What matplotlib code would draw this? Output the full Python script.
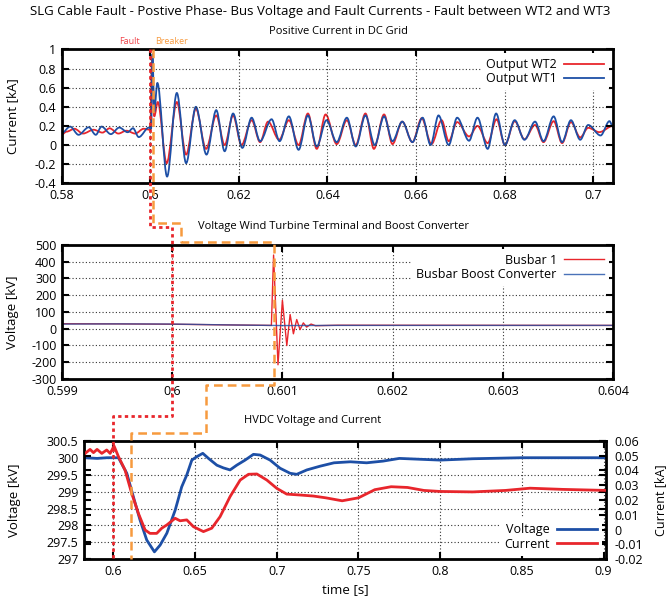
import numpy as np
import matplotlib
matplotlib.use("Agg")
import matplotlib.pyplot as plt
from matplotlib.lines import Line2D
from matplotlib.path import Path
from matplotlib.patches import PathPatch
from matplotlib.ticker import FuncFormatter

plt.rcParams['font.family'] = ['Open Sans', 'DejaVu Sans']

# ---------------- data ----------------
# panel 1: positive current in DC grid [kA] (turning points of the oscillation)
wt1_t = [0.5800, 0.5819, 0.5838, 0.5861, 0.5877, 0.5890, 0.5911, 0.5930, 0.5949, 0.5961,
         0.5974, 0.5997, 0.6002, 0.6005, 0.6009, 0.6016, 0.6038, 0.6060, 0.6081, 0.6103,
         0.6127, 0.6149, 0.6168, 0.6187, 0.6208, 0.6229, 0.6248, 0.6274, 0.6292, 0.6313,
         0.6335, 0.6356, 0.6376, 0.6398, 0.6421, 0.6444, 0.6464, 0.6486, 0.6507, 0.6528,
         0.6547, 0.6569, 0.6592, 0.6615, 0.6633, 0.6651, 0.6674, 0.6693, 0.6720, 0.6739,
         0.6762, 0.6781, 0.6801, 0.6823, 0.6845, 0.6869, 0.6888, 0.6911, 0.6930, 0.6950,
         0.6971, 0.6989, 0.7017, 0.7037, 0.7045]
wt1_i = [0.124, 0.193, 0.107, 0.186, 0.107, 0.193, 0.114, 0.183, 0.134, 0.176,
         0.083, 0.183, 0.17, 0.95, 0.35, 0.65, -0.33, 0.545, -0.19, 0.40,
         -0.10, 0.365, -0.065, 0.33, -0.03, 0.286, 0.04, 0.27, 0.04, 0.30,
         -0.05, 0.31, -0.015, 0.26, 0.03, 0.286, -0.015, 0.31, 0.0, 0.30,
         0.04, 0.245, 0.03, 0.286, 0.0, 0.31, 0.0, 0.286, 0.045, 0.286,
         -0.04, 0.33, 0.0, 0.26, 0.055, 0.245, 0.04, 0.30, 0.03, 0.26,
         0.055, 0.21, 0.10, 0.25, 0.19]

wt2_t = [0.5800, 0.5811, 0.5829, 0.5848, 0.5872, 0.5892, 0.5908, 0.5928, 0.5946, 0.5966,
         0.5985, 0.6000, 0.6004, 0.6009, 0.6017, 0.6037, 0.6060, 0.6081, 0.6103, 0.6126,
         0.6149, 0.6168, 0.6187, 0.6206, 0.6229, 0.6248, 0.6266, 0.6291, 0.6313, 0.6335,
         0.6356, 0.6376, 0.6396, 0.6421, 0.6444, 0.6464, 0.6486, 0.6505, 0.6528, 0.6547,
         0.6569, 0.6592, 0.6613, 0.6635, 0.6658, 0.6674, 0.6693, 0.6720, 0.6739, 0.6762,
         0.6782, 0.6801, 0.6823, 0.6845, 0.6869, 0.6888, 0.6911, 0.6930, 0.6950, 0.6971,
         0.6989, 0.7014, 0.7045]
wt2_i = [0.11, 0.14, 0.17, 0.12, 0.16, 0.13, 0.175, 0.12, 0.15, 0.12,
         0.17, 0.16, 0.90, 0.30, 0.45, -0.19, 0.45, -0.10, 0.38, -0.04,
         0.31, 0.0, 0.31, 0.0, 0.26, 0.03, 0.245, 0.055, 0.26, 0.0,
         0.33, -0.04, 0.32, 0.01, 0.26, 0.0, 0.33, -0.04, 0.32, 0.01,
         0.245, 0.03, 0.28, 0.01, 0.26, 0.04, 0.24, 0.09, 0.20, 0.02,
         0.27, 0.0, 0.25, 0.06, 0.21, 0.03, 0.25, 0.02, 0.24, 0.08,
         0.18, 0.135, 0.20]

# panel 2: voltage wind turbine terminal and boost converter [kV]
bus1_t = [0.5990, 0.5995, 0.6000, 0.6005, 0.6009, 0.60092, 0.60096, 0.60100, 0.60104, 0.60107,
          0.60110, 0.60113, 0.60116, 0.60119, 0.60122, 0.60126, 0.60130, 0.60150, 0.6040]
bus1_v = [30, 29, 27, 23, 20, 440, -215, 170, -100, 85,
          -30, 55, -5, 35, 10, 28, 18, 21, 20]
boost_t = [0.5990, 0.5995, 0.6000, 0.6005, 0.6010, 0.6015, 0.6040]
boost_v = [28, 29, 28, 23, 19, 20, 20]

# panel 3: HVDC voltage [kV] and current [kA]
hv_t = [0.5827, 0.5900, 0.5960, 0.6031, 0.6082, 0.6122, 0.6163, 0.6204, 0.6251, 0.6286,
        0.6327, 0.6378, 0.6418, 0.6449, 0.6480, 0.6510, 0.6547, 0.6582, 0.6633, 0.6673,
        0.6714, 0.6755, 0.6806, 0.6857, 0.6898, 0.6959, 0.7020, 0.7082, 0.7122, 0.7184,
        0.7265, 0.7350, 0.7450, 0.7550, 0.7650, 0.7750, 0.7900, 0.8000, 0.8200, 0.8500,
        0.8750, 0.9015]
hv_v = [300.0, 299.98, 300.0, 300.0, 299.54, 298.85, 298.16, 297.57, 297.22, 297.42,
        297.77, 298.45, 299.14, 299.49, 299.93, 300.03, 300.13, 299.98, 299.78, 299.70,
        299.64, 299.78, 299.93, 300.10, 300.08, 299.93, 299.69, 299.54, 299.51, 299.64,
        299.75, 299.85, 299.88, 299.85, 299.90, 299.98, 299.95, 299.93, 299.97, 300.0,
        300.0, 300.0]
hc_t = [0.5827, 0.5857, 0.5878, 0.5900, 0.5929, 0.5959, 0.5980, 0.6004, 0.6031, 0.6071,
        0.6112, 0.6153, 0.6194, 0.6224, 0.6265, 0.6296, 0.6327, 0.6378, 0.6408, 0.6449,
        0.6490, 0.6551, 0.6602, 0.6653, 0.6714, 0.6776, 0.6827, 0.6878, 0.6939, 0.7000,
        0.7061, 0.7143, 0.7224, 0.7300, 0.7400, 0.7500, 0.7600, 0.7700, 0.7800, 0.7900,
        0.8000, 0.8200, 0.8400, 0.8550, 0.8750, 0.9015]
hc_i = [0.0515, 0.0542, 0.0520, 0.0542, 0.0515, 0.0538, 0.0515, 0.0565, 0.0493, 0.0403,
        0.0245, 0.0110, -0.0002, -0.0025, -0.0025, 0.0010, 0.0032, 0.0077, 0.0060, 0.0066,
        0.0020, -0.0013, 0.0010, 0.0088, 0.0223, 0.0335, 0.0374, 0.0376, 0.0335, 0.0279,
        0.0240, 0.0234, 0.0227, 0.0215, 0.0195, 0.0215, 0.0270, 0.0290, 0.0285, 0.0265,
        0.0258, 0.0255, 0.0265, 0.0280, 0.0272, 0.0265]

# fault / breaker instants as drawn in each panel (annotation lines)
fault_t = [0.6, 0.6, 0.6]
breaker_t = [0.6007, 0.60092, 0.6105]

RED = '#e8262c'
BLUE = '#1d4fa6'
ORANGE = '#f79a3e'

W, H = 669, 602
fig = plt.figure(figsize=(W / 100, H / 100), dpi=100)


def rect(l, r, t, b):
    return [l / W, 1 - b / H, (r - l) / W, (b - t) / H]


gfmt = FuncFormatter(lambda v, p: '%g' % round(v, 6))


def style(ax):
    for s in ax.spines.values():
        s.set_linewidth(2.0)
    ax.tick_params(direction='in', length=5, width=1.5, top=True, right=True,
                   labelsize=9, pad=4)
    ax.grid(True, color='#333333', linestyle=(0, (1, 2)), linewidth=0.8)
    ax.xaxis.set_major_formatter(gfmt)
    ax.yaxis.set_major_formatter(gfmt)


def gp_legend(ax, handles, labels, loc):
    leg = ax.legend(handles, labels, loc=loc, markerfirst=False, fontsize=9, frameon=True,
                    handlelength=3.2, borderaxespad=0.3, labelspacing=0.1, handletextpad=0.6)
    leg.get_frame().set_edgecolor('none')
    leg.get_frame().set_facecolor('white')
    leg.get_frame().set_alpha(1)
    return leg


def smooth_curve(ax, t, v, color, lw):
    # draw through the turning points with flat-tangent bezier segments
    verts = [(t[0], v[0])]
    codes = [Path.MOVETO]
    for i in range(1, len(t)):
        dt = t[i] - t[i - 1]
        verts += [(t[i - 1] + dt / 3, v[i - 1]), (t[i] - dt / 3, v[i]), (t[i], v[i])]
        codes += [Path.CURVE4] * 3
    ax.add_patch(PathPatch(Path(verts, codes), fill=False, edgecolor=color, lw=lw,
                           capstyle='round', joinstyle='round'))
    return Line2D([], [], color=color, lw=lw)


# ---------- panel 1 ----------
ax1 = fig.add_axes(rect(61.7, 613, 49.4, 183.3))
h2 = smooth_curve(ax1, wt2_t, wt2_i, RED, 1.3)
h1 = smooth_curve(ax1, wt1_t, wt1_i, BLUE, 1.3)
ax1.set_xlim(0.58, 0.7045)
ax1.set_ylim(-0.4, 1.0)
ax1.set_xticks(np.arange(0.58, 0.7001, 0.02))
ax1.set_yticks(np.arange(-0.4, 1.001, 0.2))
style(ax1)
gp_legend(ax1, [h2, h1], ['Output WT2', 'Output WT1'], 'upper right')

# ---------- panel 2 ----------
ax2 = fig.add_axes(rect(62, 613, 245, 379))
b1, = ax2.plot(bus1_t, bus1_v, color=RED, lw=1.0)
b2, = ax2.plot(boost_t, boost_v, color=BLUE, lw=1.0, alpha=0.8)
ax2.set_xlim(0.599, 0.604)
ax2.set_ylim(-300, 500)
ax2.set_xticks(np.arange(0.599, 0.60401, 0.001))
ax2.set_yticks(np.arange(-300, 501, 100))
style(ax2)
gp_legend(ax2, [b1, b2], ['Busbar 1', 'Busbar Boost Converter'], 'upper right')

# ---------- panel 3 ----------
ax3 = fig.add_axes(rect(84, 606, 440.8, 559.3))
ax3b = ax3.twinx()
l_v, = ax3.plot(hv_t, hv_v, color=BLUE, lw=2.0, solid_joinstyle='round')
l_c, = ax3b.plot(hc_t, hc_i, color=RED, lw=2.0, solid_joinstyle='round')
ax3.set_xlim(0.582, 0.9015)
ax3.set_ylim(297, 300.5)
ax3b.set_ylim(-0.02, 0.06)
ax3.set_xticks(np.arange(0.6, 0.9001, 0.05))
ax3.set_yticks(np.arange(297, 300.51, 0.5))
ax3b.set_yticks(np.arange(-0.02, 0.0601, 0.01))
style(ax3)
ax3b.tick_params(direction='in', length=5, width=1.5, labelsize=9, pad=6, left=True)
ax3b.yaxis.set_major_formatter(gfmt)
ax3.set_xlabel('time [s]', fontsize=9.5, labelpad=4)
gp_legend(ax3b, [l_v, l_c], ['Voltage', 'Current'], 'lower right')

# ---------- axis labels and titles ----------
fig.text(13 / W, 1 - 116 / H, 'Current [kA]', rotation=90, ha='center', va='center', fontsize=9.5)
fig.text(13 / W, 1 - 312 / H, 'Voltage [kV]', rotation=90, ha='center', va='center', fontsize=9.5)
fig.text(15 / W, 1 - 500 / H, 'Voltage [kV]', rotation=90, ha='center', va='center', fontsize=9.5)
fig.text(661 / W, 1 - 500 / H, 'Current [kA]', rotation=90, ha='center', va='center', fontsize=9)
fig.text(320 / W, 1 - 12 / H, 'SLG Cable Fault - Postive Phase- Bus Voltage and Fault Currents - Fault between WT2 and WT3',
         ha='center', va='center', fontsize=9.5)
fig.text(338 / W, 1 - 31 / H, 'Positive Current in DC Grid', ha='center', va='center', fontsize=8)
fig.text(333 / W, 1 - 227 / H, 'Voltage Wind Turbine Terminal and Boost Converter',
         ha='center', va='center', fontsize=8)
fig.text(313 / W, 1 - 421 / H, 'HVDC Voltage and Current', ha='center', va='center', fontsize=8)
fig.text(129 / W, 1 - 42 / H, 'Fault', ha='center', va='center', fontsize=6.5, color='#f0454b')
fig.text(172 / W, 1 - 42 / H, 'Breaker', ha='center', va='center', fontsize=6.5, color=ORANGE)

# ---------- fault / breaker connectors ----------
fig.canvas.draw()


def fx(ax, t):
    x = ax.transData.transform((t, 0))[0]
    return fig.transFigure.inverted().transform((x, 0))[0]


def fy(y_px):
    return 1 - y_px / H


fr = [fx(ax1, fault_t[0]), fx(ax2, fault_t[1]), fx(ax3, fault_t[2])]
br = [fx(ax1, breaker_t[0]), fx(ax2, breaker_t[1]), fx(ax3, breaker_t[2])]

red_x = [fr[0], fr[0], fr[1], fr[1], fr[2], fr[2]]
red_y = [fy(49), fy(227), fy(227), fy(416), fy(416), fy(559.3)]
fig.add_artist(Line2D(red_x, red_y, transform=fig.transFigure, color=RED,
                      lw=2.0, linestyle=(0, (1.2, 1.2)), zorder=10))

mid_x = fx(ax2, 0.60008)
low_x = fx(ax3, 0.6565)
or_x = [br[0], br[0], mid_x, mid_x, br[1], br[1], low_x, low_x, br[2], br[2]]
or_y = [fy(49), fy(222.7), fy(222.7), fy(241.7), fy(241.7), fy(385), fy(385),
        fy(432.7), fy(432.7), fy(559.3)]
fig.add_artist(Line2D(or_x, or_y, transform=fig.transFigure, color=ORANGE,
                      lw=1.8, linestyle=(0, (3.5, 2)), zorder=10))

fig.savefig('out.png', dpi=100)
